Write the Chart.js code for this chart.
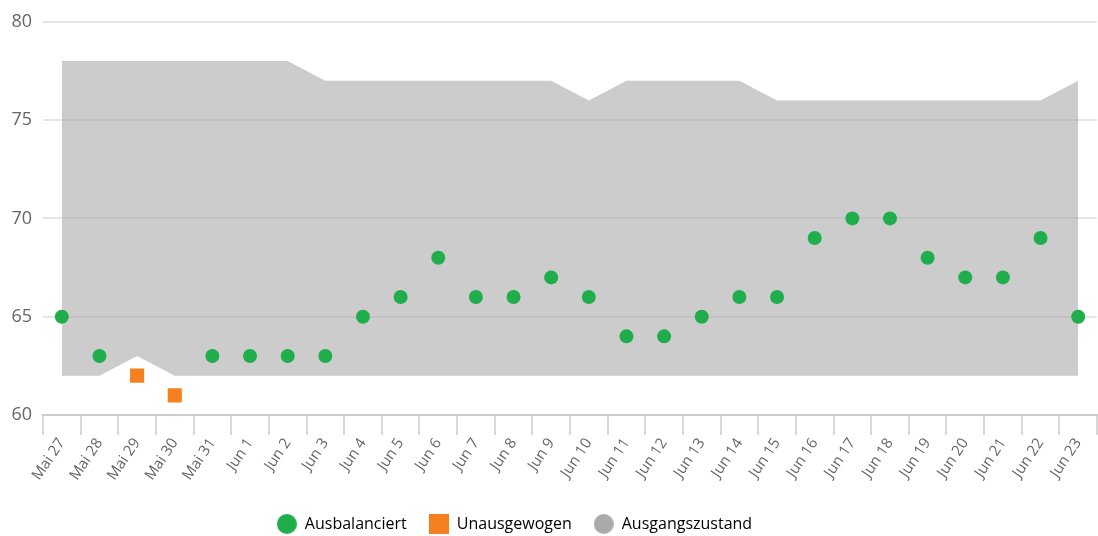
<!DOCTYPE html>
<html>
<head>
<meta charset="utf-8">
<script src="https://cdn.jsdelivr.net/npm/chart.js@4"></script>
<style>
    html, body { margin: 0; padding: 0; background: #ffffff; }
    #wrap { width: 1098px; height: 536px; }
</style>
</head>
<body>
<div id="wrap"><canvas id="balanceChart"></canvas></div>
<script>
// Chart data
const days = ['Mai 27', 'Mai 28', 'Mai 29', 'Mai 30', 'Mai 31', 'Jun 1', 'Jun 2', 'Jun 3', 'Jun 4', 'Jun 5',
    'Jun 6', 'Jun 7', 'Jun 8', 'Jun 9', 'Jun 10', 'Jun 11', 'Jun 12', 'Jun 13', 'Jun 14', 'Jun 15',
    'Jun 16', 'Jun 17', 'Jun 18', 'Jun 19', 'Jun 20', 'Jun 21', 'Jun 22', 'Jun 23'];
const balanced = [65, 63, null, null, 63, 63, 63, 63, 65, 66, 68, 66, 66, 67, 66, 64, 64, 65, 66, 66,
    69, 70, 70, 68, 67, 67, 69, 65];
const unbalanced = [null, null, 62, 61, null, null, null, null, null, null, null, null, null, null, null,
    null, null, null, null, null, null, null, null, null, null, null, null, null];
const baseHigh = [78, 78, 78, 78, 78, 78, 78, 77, 77, 77, 77, 77, 77, 77, 76, 77, 77, 77, 77, 76,
    76, 76, 76, 76, 76, 76, 76, 77];
const baseLow = [62, 62, 63, 62, 62, 62, 62, 62, 62, 62, 62, 62, 62, 62, 62, 62, 62, 62, 62, 62,
    62, 62, 62, 62, 62, 62, 62, 62];
const yTicks = [60, 65, 70, 75, 80];

const GREEN = '#1fae4b';
const ORANGE = '#f5801f';
const GREY = '#aaaaaa';

// Legend markers (20px)
function legendMarker(color, shape) {
    const c = document.createElement('canvas');
    c.width = 20;
    c.height = 20;
    const g = c.getContext('2d');
    g.fillStyle = color;
    if (shape === 'square') {
        g.fillRect(0, 0, 20, 20);
    } else {
        g.beginPath();
        g.arc(10, 10, 10, 0, Math.PI * 2);
        g.fill();
    }
    return c;
}
const markers = [legendMarker(GREEN, 'circle'), legendMarker(ORANGE, 'square'), legendMarker(GREY, 'circle')];

// Move legend a bit to the left like the original
const legendShift = {
    id: 'legendShift',
    afterLayout(chart) {
        chart.legend.left -= 34;
        chart.legend.right -= 34;
    }
};

Chart.defaults.font.family = "'Open Sans', sans-serif";

const ctx = document.getElementById('balanceChart');
new Chart(ctx, {
    type: 'line',
    data: {
        labels: days,
        datasets: [
            {
                label: 'Ausbalanciert',
                data: balanced,
                showLine: false,
                pointStyle: 'circle',
                pointRadius: 7,
                pointHoverRadius: 7,
                pointBackgroundColor: GREEN,
                pointBorderWidth: 0,
                backgroundColor: GREEN,
                borderColor: GREEN
            },
            {
                label: 'Unausgewogen',
                data: unbalanced,
                showLine: false,
                pointStyle: 'rect',
                pointRadius: 10,
                pointHoverRadius: 10,
                pointBackgroundColor: ORANGE,
                pointBorderWidth: 0,
                backgroundColor: ORANGE,
                borderColor: ORANGE
            },
            {
                label: 'Ausgangszustand',
                data: baseHigh,
                fill: '+1',
                tension: 0,
                borderWidth: 0,
                pointRadius: 0,
                pointHoverRadius: 0,
                backgroundColor: 'rgba(170, 170, 170, 0.6)',
                borderColor: 'rgba(0, 0, 0, 0)'
            },
            {
                label: 'low',
                data: baseLow,
                fill: false,
                tension: 0,
                borderWidth: 0,
                pointRadius: 0,
                pointHoverRadius: 0,
                borderColor: 'rgba(0, 0, 0, 0)'
            }
        ]
    },
    options: {
        responsive: true,
        maintainAspectRatio: false,
        animation: false,
        layout: {
            autoPadding: false,
            padding: { top: 19, left: 0, right: 1, bottom: 0 }
        },
        plugins: {
            tooltip: { enabled: false },
            legend: {
                position: 'bottom',
                maxHeight: 42,
                labels: {
                    usePointStyle: true,
                    pointStyleWidth: 20,
                    padding: 22,
                    color: '#333333',
                    font: { size: 16 },
                    generateLabels: function(chart) {
                        return chart.data.datasets.slice(0, 3).map((ds, i) => ({
                            text: ds.label,
                            pointStyle: markers[i],
                            fillStyle: 'transparent',
                            strokeStyle: 'transparent',
                            lineWidth: 0,
                            hidden: false,
                            datasetIndex: i
                        }));
                    }
                }
            }
        },
        scales: {
            x: {
                offset: true,
                grid: {
                    offset: true,
                    drawOnChartArea: false,
                    tickLength: 20,
                    color: '#d8d8d8',
                    lineWidth: 2
                },
                border: { color: '#cccccc', width: 2 },
                ticks: {
                    minRotation: 56,
                    maxRotation: 56,
                    padding: 0,
                    color: '#666666',
                    font: { size: 15 }
                },
                afterFit: function(scale) {
                    scale.height = 79;
                }
            },
            y: {
                min: 60,
                max: 80,
                afterBuildTicks: function(scale) {
                    scale.ticks = yTicks.map(v => ({ value: v }));
                },
                grid: {
                    drawTicks: false,
                    color: '#e6e6e6',
                    lineWidth: 2
                },
                border: { display: false },
                ticks: {
                    padding: 11,
                    color: '#666666',
                    font: { size: 18 }
                },
                afterFit: function(scale) {
                    scale.width = 43;
                }
            }
        }
    },
    plugins: [legendShift]
});
</script>
</body>
</html>
